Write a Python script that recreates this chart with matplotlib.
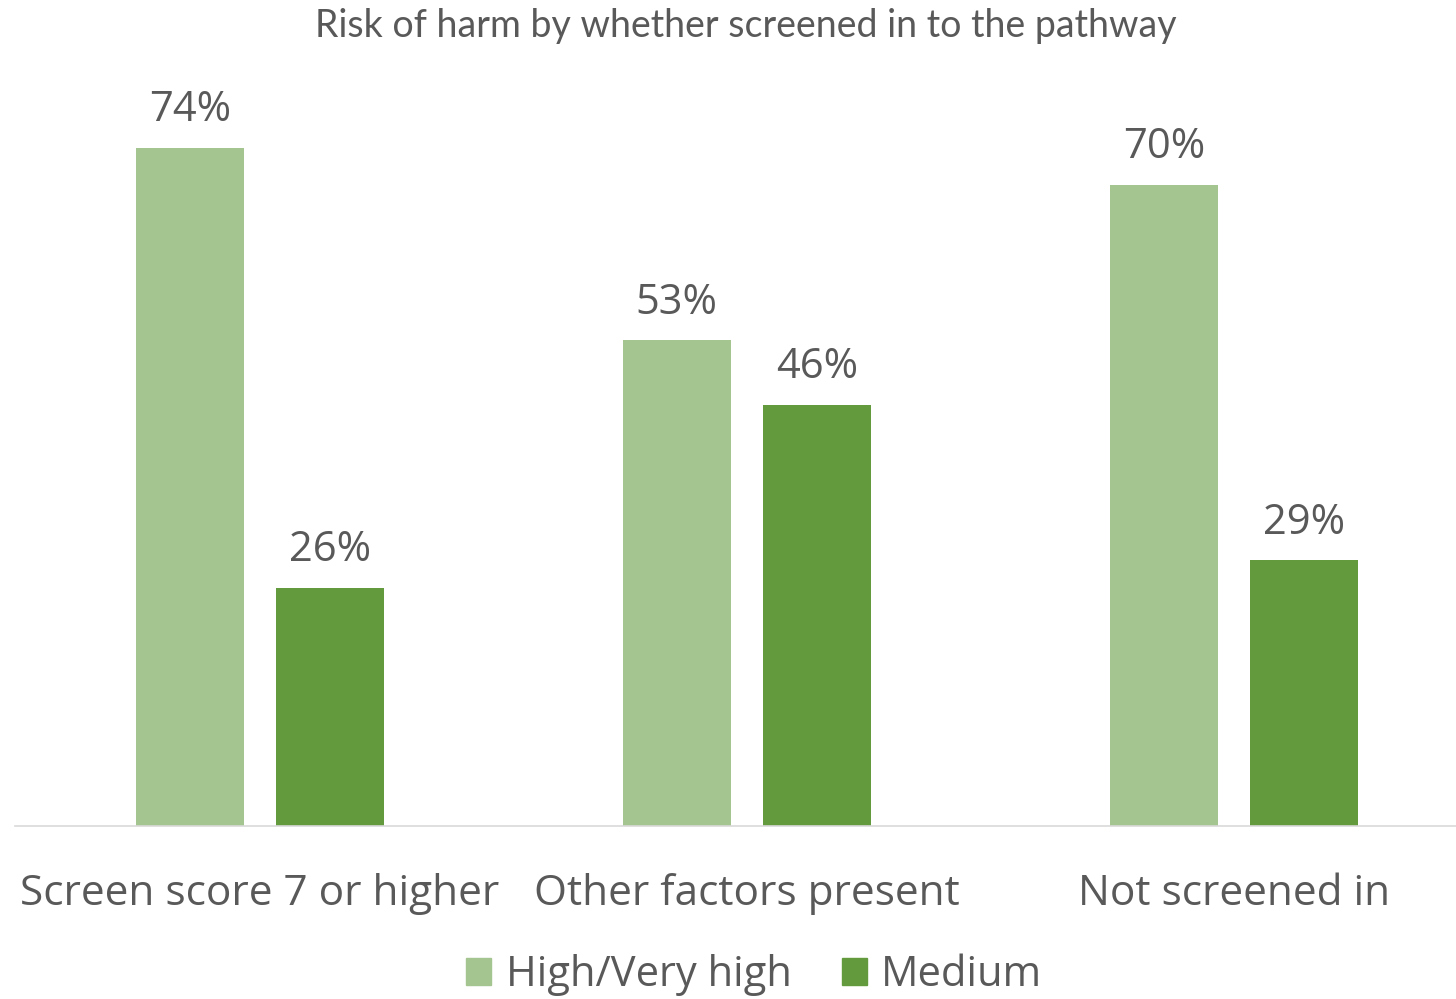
import matplotlib.pyplot as plt
from matplotlib.patches import Patch
import numpy as np

# Datos
categorias = ['Screen score 7 or higher', 'Other factors present', 'Not screened in']
series = ['High/Very high', 'Medium']
alto = [74, 53, 70]
medio = [26, 46, 29]
colores = ['#A5C590', '#629A3D']
gris = '#595959'

plt.rcParams['font.family'] = ['Open Sans', 'DejaVu Sans']

fig = plt.figure(figsize=(14.56, 9.99), dpi=100)
ax = fig.add_axes([15 / 1456, 1 - 826 / 999, 1 - 15 / 1456, 733 / 999])

x = np.arange(len(categorias))
ancho = 0.222
desp = 0.144

b1 = ax.bar(x - desp, alto, ancho, color=colores[0])
b2 = ax.bar(x + desp, medio, ancho, color=colores[1])

for barras in (b1, b2):
    for b in barras:
        ax.annotate(f'{int(b.get_height())}%', (b.get_x() + b.get_width() / 2, b.get_height()),
                    xytext=(0, 12), textcoords='offset points', ha='center', va='bottom',
                    fontsize=30, color=gris)

ax.set_xlim(-0.503, 2.456)
ax.set_ylim(0, 80)
ax.set_yticks([])
ax.set_xticks(x)
ax.set_xticklabels(categorias, fontsize=30.5, color=gris)
ax.tick_params(axis='x', length=0, pad=34)
for lado in ['top', 'right', 'left']:
    ax.spines[lado].set_visible(False)
ax.spines['bottom'].set_color('#D9D9D9')
ax.spines['bottom'].set_linewidth(1.2)

fig.text(0.512, 0.974, 'Risk of harm by whether screened in to the pathway', ha='center', va='center',
         fontsize=27, color=gris, family=['Lato', 'DejaVu Sans'])

manijas = [Patch(color=c) for c in colores]
fig.legend(manijas, series, loc='center', bbox_to_anchor=(0.518, 0.024), ncol=2, frameon=False,
           fontsize=30, labelcolor=gris, handlelength=0.6, handleheight=0.6, handletextpad=0.35,
           columnspacing=1.2)

fig.savefig('out.png', dpi=100)
